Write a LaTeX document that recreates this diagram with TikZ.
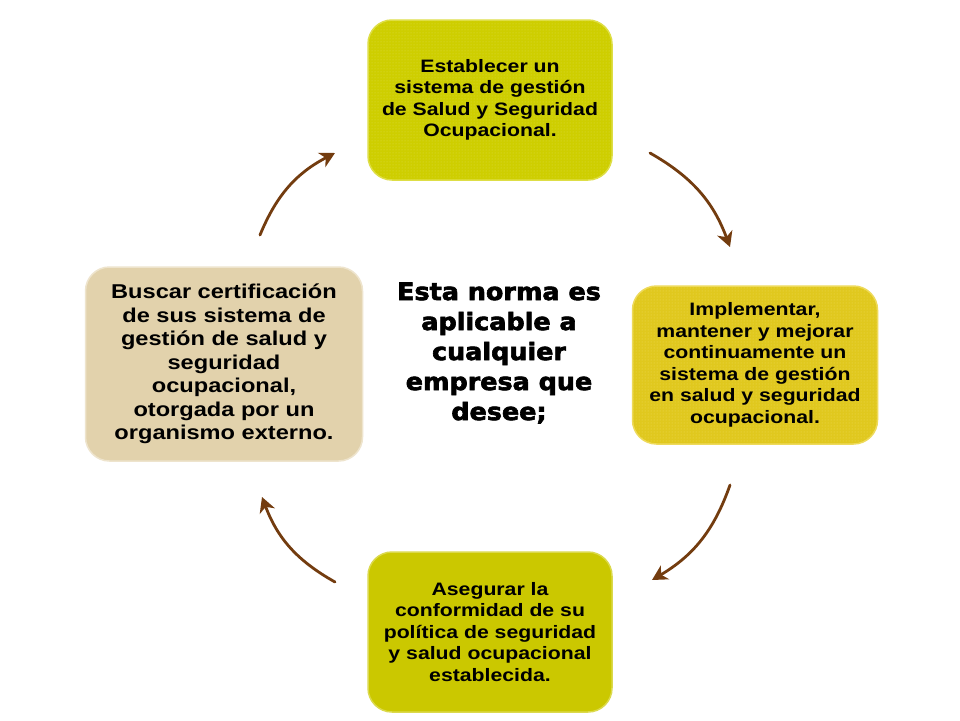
\documentclass[tikz,border=0pt]{standalone}
\usepackage{fontspec}
\setmainfont{Liberation Sans}
\newfontfamily\boxfont[FakeStretch=1.18]{Liberation Sans}
\newfontfamily\heavyfont[FakeStretch=1.06, FakeBold=2.6]{DejaVu Sans}
\usetikzlibrary{arrows.meta, patterns}
\definecolor{olivebox}{RGB}{206,206,0}
\definecolor{olivedot}{RGB}{222,222,70}
\definecolor{goldbox}{RGB}{224,200,30}
\definecolor{golddot}{RGB}{238,218,90}
\definecolor{lowbox}{RGB}{203,200,0}
\definecolor{parchment}{RGB}{226,210,172}
\definecolor{arrowbrown}{RGB}{115,60,15}

\begin{document}
\begin{tikzpicture}[x=1pt, y=-1pt,
  stagebox/.style={rounded corners=24pt, align=center, font=\boxfont\bfseries\fontsize{18}{21.5}\selectfont, text=black, inner sep=0pt},
  cycle arrow/.style={-{Stealth[length=15pt, width=16pt, inset=4.5pt]}, line width=2.8pt, arrowbrown, line cap=round}]
\useasboundingbox (0, 0) rectangle (960, 720);
\fill[white] (0, 0) rectangle (960, 720);
%Boxes
\node[stagebox, minimum width=244pt, minimum height=160pt, fill=olivebox, draw=olivedot, line width=1.5pt,
  postaction={pattern=dots, pattern color=olivedot}] (establecer) at (490, 100)
  {Establecer un\\sistema de gestión\\de Salud y Seguridad\\Ocupacional.};
\node[stagebox, minimum width=245pt, minimum height=158pt, fill=goldbox, draw=golddot, line width=1.5pt,
  postaction={pattern=dots, pattern color=golddot}] (implementar) at (755, 365)
  {Implementar,\\mantener y mejorar\\continuamente un\\sistema de gestión\\en salud y seguridad\\ocupacional.};
\node[stagebox, minimum width=244pt, minimum height=160pt, fill=lowbox, draw=lowbox!70!white, line width=1.5pt] (asegurar) at (490, 632)
  {Asegurar la\\conformidad de su\\política de seguridad\\y salud ocupacional\\establecida.};
\node[stagebox, minimum width=277pt, minimum height=194pt, fill=parchment, draw=parchment!60!white, line width=1.5pt,
  font=\boxfont\bfseries\fontsize{20}{23.5}\selectfont] (buscar) at (224, 364)
  {Buscar certificación\\de sus sistema de\\gestión de salud y\\seguridad\\ocupacional,\\otorgada por un\\organismo externo.};
%Centre text
\node[align=center, font=\heavyfont\bfseries\fontsize{24}{30}\selectfont] (norma) at (499, 353)
  {Esta norma es\\aplicable a\\cualquier\\empresa que\\desee;};
%Arrows
\coordinate (tl start) at (260, 235);
\coordinate (tl end) at (335, 153);
\coordinate (tr start) at (650, 153);
\coordinate (tr end) at (730, 247);
\coordinate (br start) at (730, 485);
\coordinate (br end) at (652, 580);
\coordinate (bl start) at (335, 582);
\coordinate (bl end) at (262, 497);
\draw[cycle arrow] (tl start) to[bend left=20] (tl end);
\draw[cycle arrow] (tr start) to[bend left=20] (tr end);
\draw[cycle arrow] (br start) to[bend left=20] (br end);
\draw[cycle arrow] (bl start) to[bend left=20] (bl end);
\end{tikzpicture}
\end{document}
